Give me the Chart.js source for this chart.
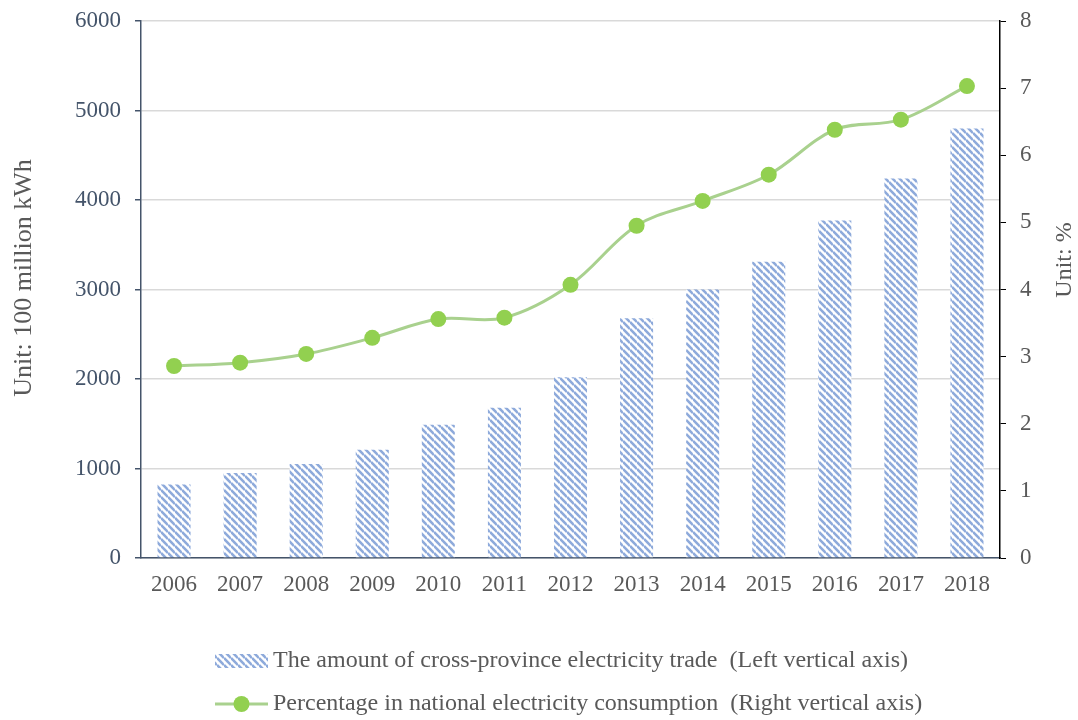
<!DOCTYPE html>
<html>
<head>
<meta charset="utf-8">
<script src="https://cdn.jsdelivr.net/npm/chart.js@4"></script>
<style>
  body { margin: 0; background: #fff; }
  #wrap { width: 1078px; height: 720px; }
</style>
</head>
<body>
<div id="wrap"><canvas id="myChart"></canvas></div>
<script>
// data
const years = ['2006','2007','2008','2009','2010','2011','2012','2013','2014','2015','2016','2017','2018'];
const tradeAmount = [820, 950, 1050, 1210, 1490, 1680, 2020, 2680, 3000, 3310, 3770, 4240, 4800];
const sharePct = [2.86, 2.91, 3.04, 3.28, 3.56, 3.58, 4.07, 4.95, 5.32, 5.71, 6.38, 6.53, 7.03];
const barLabel = 'The amount of cross-province electricity trade  (Left vertical axis)';
const lineLabel = 'Percentage in national electricity consumption  (Right vertical axis)';

const FONT = "'Liberation Serif', 'Times New Roman', serif";
const barBlue = '#8eaadb';
const green = '#92d050';
const lineGreen = '#a9d18e';

// striped fill like excel's wide downward diagonal
function makeStripes() {
  const s = 7;
  const c = document.createElement('canvas');
  c.width = s; c.height = s;
  const g = c.getContext('2d');
  g.fillStyle = '#fff';
  g.fillRect(0, 0, s, s);
  g.strokeStyle = barBlue;
  g.lineWidth = 2.6;
  for (let k = -1; k <= 1; k++) {
    g.beginPath();
    g.moveTo(0, k * s);
    g.lineTo(s, s + k * s);
    g.stroke();
  }
  return c;
}
const stripeTile = makeStripes();

const ctx = document.getElementById('myChart');
const pattern = ctx.getContext('2d').createPattern(stripeTile, 'repeat');

function vText(c, txt, x, y, size) {
  c.save();
  c.font = size + 'px ' + FONT;
  c.fillStyle = '#595959';
  c.textAlign = 'center';
  c.textBaseline = 'middle';
  c.translate(x, y);
  c.rotate(-Math.PI / 2);
  c.fillText(txt, 0, 0);
  c.restore();
}

const extras = {
  id: 'extras',
  afterDraw(chart) {
    const c = chart.ctx;
    // axis titles, both read bottom to top
    vText(c, 'Unit: 100 million kWh', 24, 278, 26);
    vText(c, 'Unit: %', 1065, 260, 24);

    // legend
    c.save();
    c.font = '24px ' + FONT;
    c.textBaseline = 'middle';
    c.textAlign = 'left';
    c.fillStyle = c.createPattern(stripeTile, 'repeat');
    c.fillRect(215, 654, 53, 14);
    c.fillStyle = '#595959';
    c.fillText(barLabel, 273, 661);

    c.strokeStyle = lineGreen;
    c.lineWidth = 3;
    c.beginPath();
    c.moveTo(215, 704);
    c.lineTo(268, 704);
    c.stroke();
    c.fillStyle = green;
    c.beginPath();
    c.arc(241.5, 704, 8, 0, Math.PI * 2);
    c.fill();
    c.fillStyle = '#595959';
    c.fillText(lineLabel, 273, 704);
    c.restore();
  }
};

function noPad(s) { s.paddingTop = 0; s.paddingBottom = 0; }

new Chart(ctx, {
  data: {
    labels: years,
    datasets: [
      {
        type: 'line',
        label: lineLabel,
        data: sharePct,
        yAxisID: 'y1',
        borderColor: lineGreen,
        borderWidth: 3,
        tension: 0.35,
        pointRadius: 8,
        pointBackgroundColor: green,
        pointBorderColor: green,
        pointBorderWidth: 0,
        order: 0
      },
      {
        type: 'bar',
        label: barLabel,
        data: tradeAmount,
        yAxisID: 'y',
        backgroundColor: pattern,
        borderWidth: 0,
        barPercentage: 0.5,
        categoryPercentage: 1,
        order: 1
      }
    ]
  },
  options: {
    responsive: true,
    maintainAspectRatio: false,
    animation: false,
    layout: { padding: { top: 21, bottom: 100, left: 0, right: 0 } },
    plugins: {
      legend: { display: false },
      tooltip: { enabled: false }
    },
    scales: {
      x: {
        grid: { drawOnChartArea: false, drawTicks: false },
        border: { color: '#44546a', width: 1.5 },
        ticks: { color: '#595959', font: { family: FONT, size: 23 }, padding: 13, maxRotation: 0 },
        afterFit(s) { s.height = 62; s.paddingLeft = 0; s.paddingRight = 0; }
      },
      y: {
        position: 'left',
        min: 0, max: 6000,
        ticks: { stepSize: 1000, color: '#44546a', font: { family: FONT, size: 23 }, padding: 14,
          callback: v => String(v) },
        grid: { color: '#d9d9d9', lineWidth: 1.5, tickColor: '#44546a', tickLength: 6 },
        border: { color: '#44546a', width: 1.5 },
        afterFit(s) { s.width = 141; noPad(s); }
      },
      y1: {
        position: 'right',
        min: 0, max: 8,
        ticks: { stepSize: 1, color: '#595959', font: { family: FONT, size: 23 }, padding: 14 },
        grid: { drawOnChartArea: false, tickColor: '#000', tickLength: 6 },
        border: { color: '#000', width: 1.5 },
        afterFit(s) { s.width = 78; noPad(s); }
      }
    }
  },
  plugins: [extras]
});
</script>
</body>
</html>
